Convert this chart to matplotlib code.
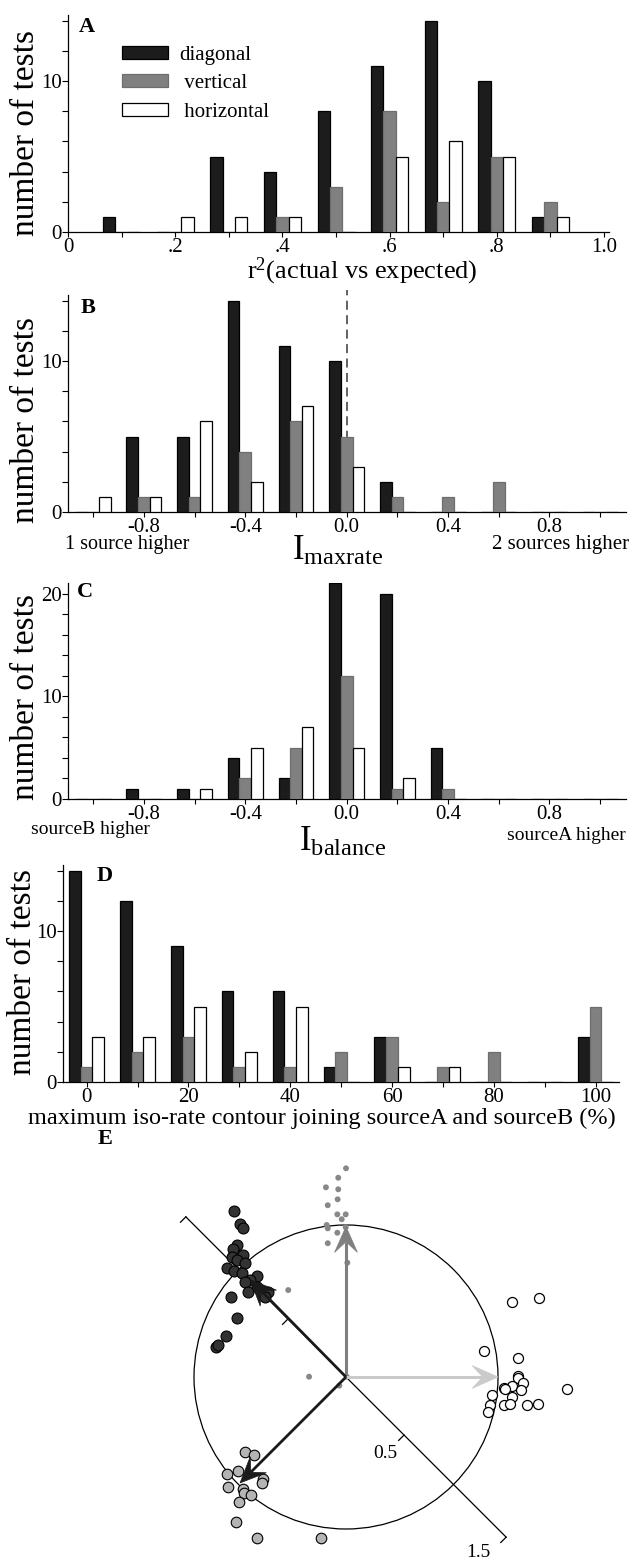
import numpy as np
import matplotlib
matplotlib.use('Agg')
import matplotlib.pyplot as plt
from matplotlib.patches import Circle, Polygon

plt.rcParams['font.family'] = ['Liberation Serif', 'DejaVu Serif']
plt.rcParams['mathtext.fontset'] = 'custom'
plt.rcParams['mathtext.rm'] = 'Liberation Serif'
plt.rcParams['mathtext.it'] = 'Liberation Serif:italic'

# --- histogram counts (diagonal, vertical, horizontal) ---
r2_bins = [0.1, 0.2, 0.3, 0.4, 0.5, 0.6, 0.7, 0.8, 0.9]
r2_diag = [1, 0, 5, 4, 8, 11, 14, 10, 1]
r2_vert = [0, 0, 0, 1, 3, 8, 2, 5, 2]
r2_horiz = [0, 1, 1, 1, 0, 5, 6, 5, 1]

idx_bins = [-1.0, -0.8, -0.6, -0.4, -0.2, 0.0, 0.2, 0.4, 0.6, 0.8, 1.0]
maxrate_diag = [0, 5, 5, 14, 11, 10, 2, 0, 0, 0, 0]
maxrate_vert = [0, 1, 1, 4, 6, 5, 1, 1, 2, 0, 0]
maxrate_horiz = [1, 1, 6, 2, 7, 3, 0, 0, 0, 0, 0]

balance_diag = [0, 1, 1, 4, 2, 21, 20, 5, 0, 0, 0]
balance_vert = [0, 0, 0, 2, 5, 12, 1, 1, 0, 0, 0]
balance_horiz = [0, 0, 1, 5, 7, 5, 2, 0, 0, 0, 0]

contour_bins = [0, 10, 20, 30, 40, 50, 60, 70, 80, 90, 100]
contour_diag = [14, 12, 9, 6, 6, 1, 3, 0, 0, 0, 3]
contour_vert = [1, 2, 3, 1, 1, 2, 3, 1, 2, 0, 5]
contour_horiz = [3, 3, 5, 2, 5, 0, 1, 1, 0, 0, 0]

series_names = ['diagonal', ' vertical', ' horizontal']

# --- polar summary: single-test points and mean vectors (circle radius = 1) ---
diagA_x = [-0.735, -0.697, -0.680, -0.715, -0.741, -0.752, -0.676, -0.715, -0.664, -0.785,
           -0.737, -0.686, -0.588, -0.632, -0.664, -0.588, -0.643, -0.511, -0.533, -0.757,
           -0.719, -0.789, -0.857, -0.842]
diagA_y = [1.092, 1.007, 0.978, 0.868, 0.842, 0.791, 0.803, 0.770, 0.748, 0.715,
           0.699, 0.682, 0.664, 0.638, 0.627, 0.594, 0.561, 0.561, 0.528, 0.528,
           0.386, 0.270, 0.199, 0.211]

vert_x = [0.0, -0.051, -0.132, -0.051, -0.055, -0.120, -0.057, -0.002, -0.028, -0.127,
          -0.120, -0.057, -0.002, -0.120, 0.009, -0.380, -0.243, -0.044, 0.005]
vert_y = [1.373, 1.311, 1.248, 1.235, 1.169, 1.130, 1.070, 1.070, 1.038, 1.000,
          0.978, 0.949, 0.985, 0.880, 0.752, 0.572, 0.002, -0.057, 0.002]

horiz_x = [1.092, 1.270, 0.908, 1.134, 1.134, 1.130, 1.166, 1.090, 1.039, 1.046,
           1.149, 1.452, 0.959, 1.090, 0.947, 1.039, 1.079, 1.189, 1.265, 0.936]
horiz_y = [0.495, 0.522, 0.173, 0.127, 0.007, -0.005, -0.041, -0.059, -0.070, -0.081,
           -0.086, -0.079, -0.118, -0.130, -0.184, -0.184, -0.178, -0.184, -0.178, -0.232]

diagB_x = [-0.664, -0.603, -0.709, -0.781, -0.544, -0.555, -0.774, -0.676, -0.669, -0.627,
           -0.704, -0.724, -0.588, -0.166]
diagB_y = [-0.491, -0.513, -0.616, -0.640, -0.671, -0.700, -0.726, -0.739, -0.765, -0.776,
           -0.820, -0.952, -1.061, -1.061]

mean_vert = (0.0, 0.99)
mean_horiz = (1.0, 0.0)
mean_diagA = (-0.63, 0.64)
mean_diagB = (-0.697, -0.697)

W, H = 640, 1561
fig = plt.figure(figsize=(W / 100, H / 100), dpi=100)


def px_axes(x0, y0, x1, y1):
    return fig.add_axes([x0 / W, 1 - y1 / H, (x1 - x0) / W, (y1 - y0) / H])


def ptxt(x, y, s, **kw):
    kw.setdefault('ha', 'center')
    kw.setdefault('va', 'center')
    fig.text(x / W, 1 - y / H, s, **kw)


fills = ['#1c1c1c', '#808080', 'white']
edges = ['black', '#6e6e6e', 'black']
TICK_FS = 15


def draw_groups(ax, centers, counts, spacing):
    w = 0.23 * spacing
    handles = []
    for k, vals in enumerate(counts):
        b = ax.bar(np.array(centers) + (k - 1) * w, vals, width=w, color=fills[k],
                   edgecolor=edges[k], linewidth=0.9, zorder=3)
        handles.append(b)
    return handles


def style(ax, xmaj, xlabs, xmin, ymaj, ymin):
    for s in ['top', 'right']:
        ax.spines[s].set_visible(False)
    for s in ['left', 'bottom']:
        ax.spines[s].set_linewidth(0.9)
    ax.set_xticks(xmaj)
    ax.set_xticklabels(xlabs)
    ax.set_xticks(xmin, minor=True)
    ax.set_yticks(ymaj)
    ax.set_yticks(ymin, minor=True)
    ax.tick_params(axis='x', which='both', direction='out', length=3.5, width=0.8,
                   labelsize=TICK_FS, pad=1)
    ax.tick_params(axis='y', which='both', direction='out', length=4.5, width=0.8,
                   labelsize=TICK_FS, pad=0)


# A: r^2
axA = px_axes(68, 14.6, 609.4, 232)
hA = draw_groups(axA, r2_bins, [r2_diag, r2_vert, r2_horiz], 0.1)
axA.set_xlim(0, 1.01)
axA.set_ylim(0, 14.4)
style(axA, [0, 0.2, 0.4, 0.6, 0.8, 1.0], ['0', '.2', '.4', '.6', '.8', '1.0'],
      [0.1, 0.3, 0.5, 0.7, 0.9], [0, 10], [2, 4, 6, 8, 12, 14])
axA.legend(hA, series_names, loc='upper left', bbox_to_anchor=(0.084, 0.895),
           frameon=False, fontsize=15, handlelength=2.2, handleheight=0.6,
           labelspacing=0.45, handletextpad=0.55, borderaxespad=0)

# B: maxrate index
axB = px_axes(67.9, 294.6, 625.5, 512)
axB.axvline(0, ymin=0, ymax=1.02, color='#555555', lw=1.3, ls=(0, (5, 3)),
            zorder=1, clip_on=False)
draw_groups(axB, idx_bins, [maxrate_diag, maxrate_vert, maxrate_horiz], 0.2)
axB.set_xlim(-1.1, 1.1)
axB.set_ylim(0, 14.4)
style(axB, [-0.8, -0.4, 0.0, 0.4, 0.8], ['-0.8', '-0.4', '0.0', '0.4', '0.8'],
      [-1.0, -0.6, -0.2, 0.2, 0.6, 1.0], [0, 10], [2, 4, 6, 8, 12, 14])

# C: balance index
axC = px_axes(67.9, 583.3, 625.5, 799)
draw_groups(axC, idx_bins, [balance_diag, balance_vert, balance_horiz], 0.2)
axC.set_xlim(-1.1, 1.1)
axC.set_ylim(0, 21)
style(axC, [-0.8, -0.4, 0.0, 0.4, 0.8], ['-0.8', '-0.4', '0.0', '0.4', '0.8'],
      [-1.0, -0.6, -0.2, 0.2, 0.6, 1.0], [0, 10, 20],
      [2, 4, 6, 8, 12, 14, 16, 18])

# D: iso-rate contour
axD = px_axes(62.7, 864.6, 619, 1082)
draw_groups(axD, contour_bins, [contour_diag, contour_vert, contour_horiz], 10)
axD.set_xlim(-4.7, 104.6)
axD.set_ylim(0, 14.4)
style(axD, [0, 20, 40, 60, 80, 100], ['0', '20', '40', '60', '80', '100'],
      [10, 30, 50, 70, 90], [0, 10], [2, 4, 6, 8, 12, 14])

# axis titles and side notes
for xc, yc in [(26, 133), (26, 420), (26, 697), (23, 972)]:
    ptxt(xc, yc, 'number of tests', rotation=90, size=24)
ptxt(362, 271, r'r$^{2}$(actual vs expected)', size=19)
ptxt(338, 551, r'I$_{\mathrm{maxrate}}$', size=25)
ptxt(127, 545, '1 source higher', size=14.5)
ptxt(561, 545, '2 sources higher', size=15)
ptxt(343, 842, r'I$_{\mathrm{balance}}$', size=25)
ptxt(90, 830, 'sourceB higher', size=14)
ptxt(566, 835, 'sourceA higher', size=14)
ptxt(322, 1118, 'maximum iso-rate contour joining sourceA and sourceB (%)', size=17.5)
for lab, (x, y) in zip('ABCDE', [(87, 27), (88, 308), (85, 592), (105, 876), (105, 1139)]):
    ptxt(x, y, lab, size=16, weight='bold')

# E: polar summary
axE = px_axes(0, 1125, 640, 1561)
axE.set_xlim(-346 / 152, 294 / 152)
axE.set_ylim(-184 / 152, 252 / 152)
axE.axis('off')

axE.add_patch(Circle((0, 0), 1.0, fill=False, ec='black', lw=0.9, zorder=1))

# diagonal scale bar through the origin
u = np.array([1, -1]) / np.sqrt(2)
n = np.array([-1, -1]) / np.sqrt(2)
end = 1.49
axE.plot([-end * u[0], end * u[0]], [-end * u[1], end * u[1]], color='black', lw=0.9, zorder=1)
for d in [-end, -0.54, 0.54, end]:
    p = d * u
    axE.plot([p[0], p[0] + 0.05 * n[0]], [p[1], p[1] + 0.05 * n[1]], color='black',
             lw=0.9, zorder=1)
p = 0.54 * u
axE.text(p[0] - 0.12, p[1] - 0.12, '0.5', size=14, ha='center', va='center')
p = end * u
axE.text(p[0] - 0.18, p[1] - 0.10, '1.5', size=14, ha='center', va='center')

axE.scatter(diagA_x, diagA_y, s=62, c='#333333', edgecolors='black', linewidths=0.8, zorder=3)
axE.scatter(vert_x, vert_y, s=18, c='#888888', edgecolors='none', zorder=3)
axE.scatter(horiz_x, horiz_y, s=52, facecolors='white', edgecolors='black', linewidths=0.9,
            zorder=3)
axE.scatter(diagB_x, diagB_y, s=58, c='#b4b4b4', edgecolors='black', linewidths=0.8, zorder=3)


def draw_vec(vec, color, lw, hl=0.17, hw=0.075, notch=0.07):
    v = np.array(vec, dtype=float)
    L = np.hypot(*v)
    d = v / L
    perp = np.array([-d[1], d[0]])
    back = v - hl * d
    neck = v - (hl - notch) * d
    axE.plot([0, neck[0]], [0, neck[1]], color=color, lw=lw, solid_capstyle='butt', zorder=4)
    head = [v, back + hw * perp, neck, back - hw * perp]
    axE.add_patch(Polygon(head, closed=True, fc=color, ec=color, lw=0.5, zorder=4))


draw_vec(mean_vert, '#7f7f7f', 2.2)
draw_vec(mean_horiz, '#cacaca', 2.2)
draw_vec(mean_diagA, '#1a1a1a', 2.0)
draw_vec(mean_diagB, '#1a1a1a', 2.0)

fig.savefig('out.png', dpi=100)
